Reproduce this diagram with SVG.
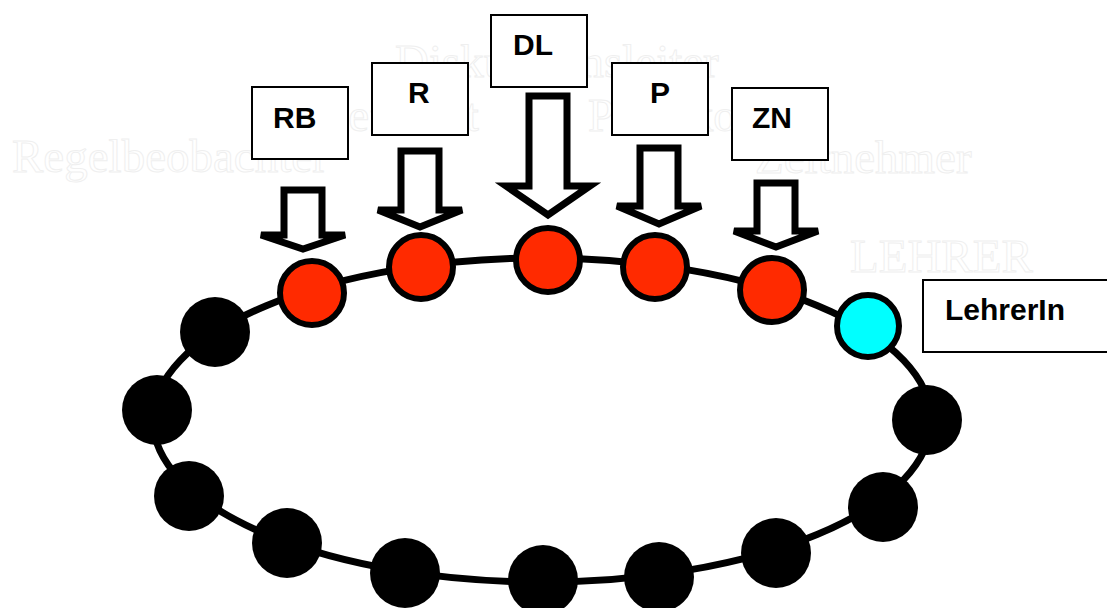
<svg xmlns="http://www.w3.org/2000/svg" width="1107" height="608" viewBox="0 0 1107 608">
<style>
.ghost{font-family:"Liberation Serif","Times New Roman",serif;font-size:47px;fill:#ffffff;stroke:#efefef;stroke-width:1}
.box{fill:#ffffff;stroke:#000000;stroke-width:2}
.lbl{font-family:"Liberation Sans",Arial,sans-serif;font-size:30px;font-weight:bold;fill:#000000}
.arrow{fill:#ffffff;stroke:#000000;stroke-width:7;stroke-linejoin:miter}
.ring{fill:none;stroke:#000000;stroke-width:7}
.red{fill:#ff2a00;stroke:#000000;stroke-width:6}
.cyan{fill:#00ffff;stroke:#000000;stroke-width:6}
.blk{fill:#000000}
</style>
<rect width="1107" height="608" fill="#ffffff"/>
<g id="ghost-texts">
<text class="ghost" x="12" y="172">Regelbeobachter</text>
<text class="ghost" x="395" y="77">Diskussionsleiter</text>
<text class="ghost" x="317" y="131">Referent</text>
<text class="ghost" x="588" y="131">Protokollant</text>
<text class="ghost" x="755" y="173">Zeitnehmer</text>
<text class="ghost" x="850" y="272">LEHRER</text>
</g>
<g id="connectors">
<ellipse class="ring" cx="542" cy="420" rx="389" ry="162"/>
<polygon class="arrow" points="284,190 322,190 322,235 345,235 303,249 261,235 284,235"/>
<polygon class="arrow" points="401,151 439,151 439,210 462,210 420,227 378,210 401,210"/>
<polygon class="arrow" points="529,96 567,96 567,186 590,186 548,215 506,186 529,186"/>
<polygon class="arrow" points="640,148 678,148 678,206 701,206 659,224 617,206 640,206"/>
<polygon class="arrow" points="757,183 795,183 795,231 818,231 776,247 734,231 757,231"/>
</g>
<g id="ring-nodes">
<g id="n-rb"><circle class="red" cx="312" cy="293" r="32"/></g>
<g id="n-r"><circle class="red" cx="421" cy="267" r="32"/></g>
<g id="n-dl"><circle class="red" cx="548" cy="260" r="32"/></g>
<g id="n-p"><circle class="red" cx="655" cy="267" r="32"/></g>
<g id="n-zn"><circle class="red" cx="772" cy="290" r="32"/></g>
<g id="n-lehrer"><circle class="cyan" cx="868" cy="326" r="31"/></g>
<g id="b10"><circle class="blk" cx="927" cy="420" r="35"/></g>
<g id="b9"><circle class="blk" cx="883" cy="507" r="35"/></g>
<g id="b8"><circle class="blk" cx="776" cy="553" r="35"/></g>
<g id="b7"><circle class="blk" cx="659" cy="577" r="35"/></g>
<g id="b6"><circle class="blk" cx="543" cy="580" r="35"/></g>
<g id="b5"><circle class="blk" cx="405" cy="573" r="35"/></g>
<g id="b4"><circle class="blk" cx="287" cy="543" r="35"/></g>
<g id="b3"><circle class="blk" cx="189" cy="496" r="35"/></g>
<g id="b2"><circle class="blk" cx="157" cy="410" r="35"/></g>
<g id="b1"><circle class="blk" cx="215" cy="332" r="35"/></g>
</g>
<g id="box-rb"><rect class="box" x="252" y="87" width="96" height="72"/><text class="lbl" x="273" y="128">RB</text></g>
<g id="box-r"><rect class="box" x="372" y="63" width="96" height="72"/><text class="lbl" x="408" y="103">R</text></g>
<g id="box-dl"><rect class="box" x="491" y="15" width="96" height="72"/><text class="lbl" x="513" y="55">DL</text></g>
<g id="box-p"><rect class="box" x="612" y="63" width="96" height="72"/><text class="lbl" x="650" y="103">P</text></g>
<g id="box-zn"><rect class="box" x="732" y="88" width="96" height="72"/><text class="lbl" x="752" y="128">ZN</text></g>
<g id="box-lehrer"><rect class="box" x="923" y="280" width="200" height="72"/><text class="lbl" x="945" y="320">LehrerIn</text></g>
</svg>
